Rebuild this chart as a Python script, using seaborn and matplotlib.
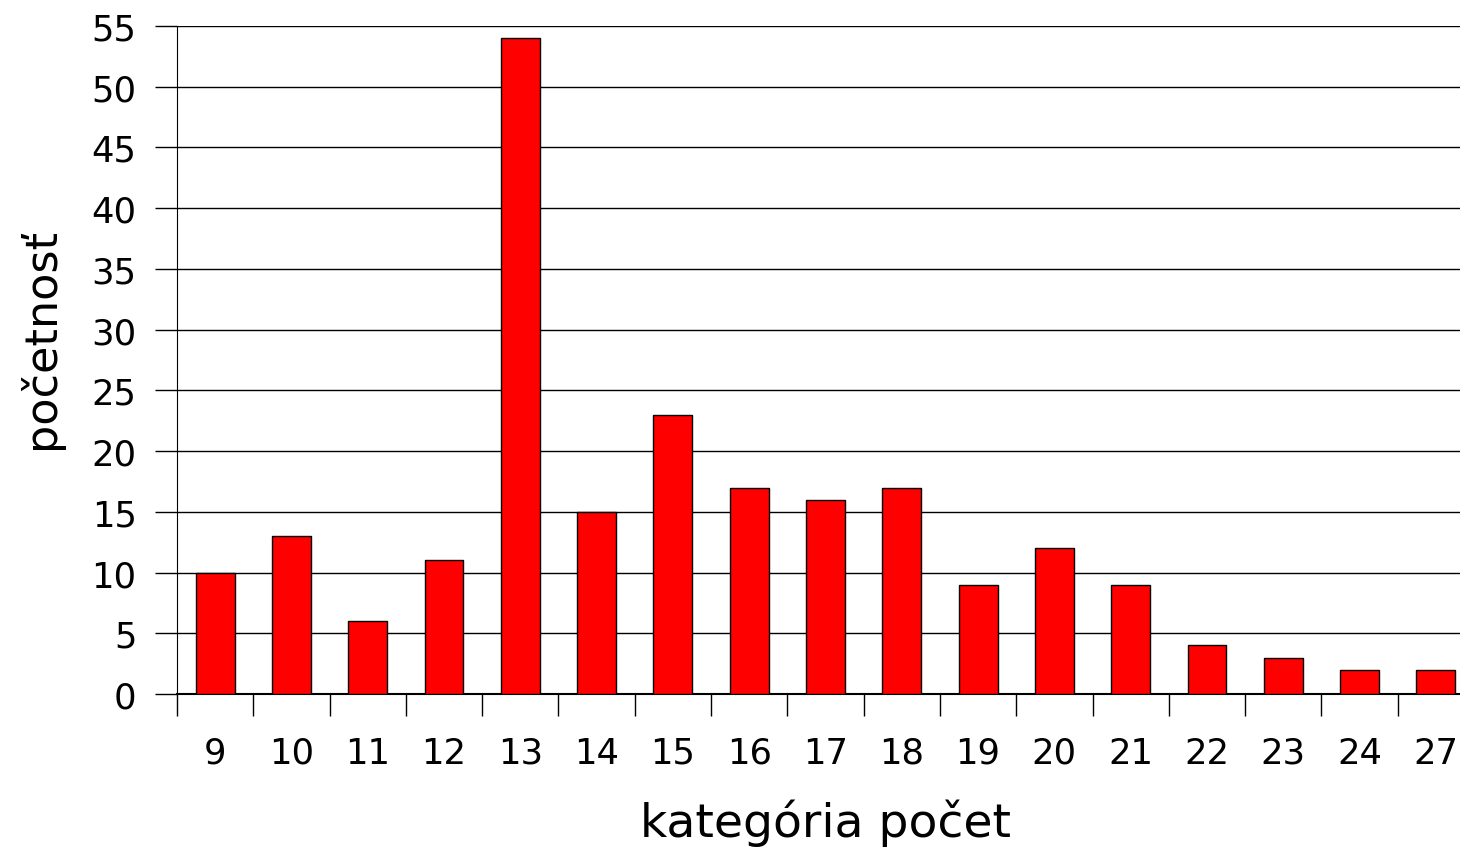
import matplotlib
matplotlib.use("Agg")
from matplotlib import pyplot as plt
from matplotlib.ticker import FixedLocator
import seaborn as sns
import pandas as pd

categories = ["9", "10", "11", "12", "13", "14", "15", "16", "17",
              "18", "19", "20", "21", "22", "23", "24", "27"]
counts = [10, 13, 6, 11, 54, 15, 23, 17, 16, 17, 9, 12, 9, 4, 3, 2, 2]

df = pd.DataFrame({"kategoria": categories, "pocet": counts})

sns.set_style("white")
plt.rcParams['font.family'] = ['DejaVu Sans']
plt.rcParams['text.color'] = 'black'
plt.rcParams['axes.labelcolor'] = 'black'
plt.rcParams['xtick.color'] = 'black'
plt.rcParams['ytick.color'] = 'black'

fig = plt.figure(figsize=(14.6, 8.53), dpi=100)
ax = fig.add_axes([0.1212, 0.1852, 0.8884, 0.7831])

sns.barplot(data=df, x="kategoria", y="pocet", order=categories,
            color="#ff0000", saturation=1, width=0.51,
            edgecolor="black", linewidth=1, ax=ax, zorder=3)

ax.set_ylim(0, 55)
ax.set_xlim(-0.5, len(categories) - 0.5)
ax.set_yticks(range(0, 56, 5))
ax.yaxis.grid(True, color="black", linewidth=1)
ax.set_axisbelow(True)

# ticks between the categories
ax.xaxis.set_minor_locator(FixedLocator([i - 0.5 for i in range(len(categories))]))
ax.tick_params(axis="x", which="major", bottom=True, length=0, pad=30, labelsize=25.5)
ax.tick_params(axis="x", which="minor", bottom=True, length=15.5, width=1, direction="out")
ax.tick_params(axis="y", which="major", left=True, length=16, width=1,
               direction="out", pad=13, labelsize=25.5)

for side in ["top", "right"]:
    ax.spines[side].set_visible(False)
ax.spines["left"].set_color("black")
ax.spines["bottom"].set_color("black")
ax.spines["bottom"].set_linewidth(1.5)

ax.set_xlabel("kategória počet", fontsize=34, labelpad=21)
ax.set_ylabel("početnosť", fontsize=32)
ax.yaxis.set_label_coords(-0.088, 0.534)

fig.savefig("out.png", dpi=100)
